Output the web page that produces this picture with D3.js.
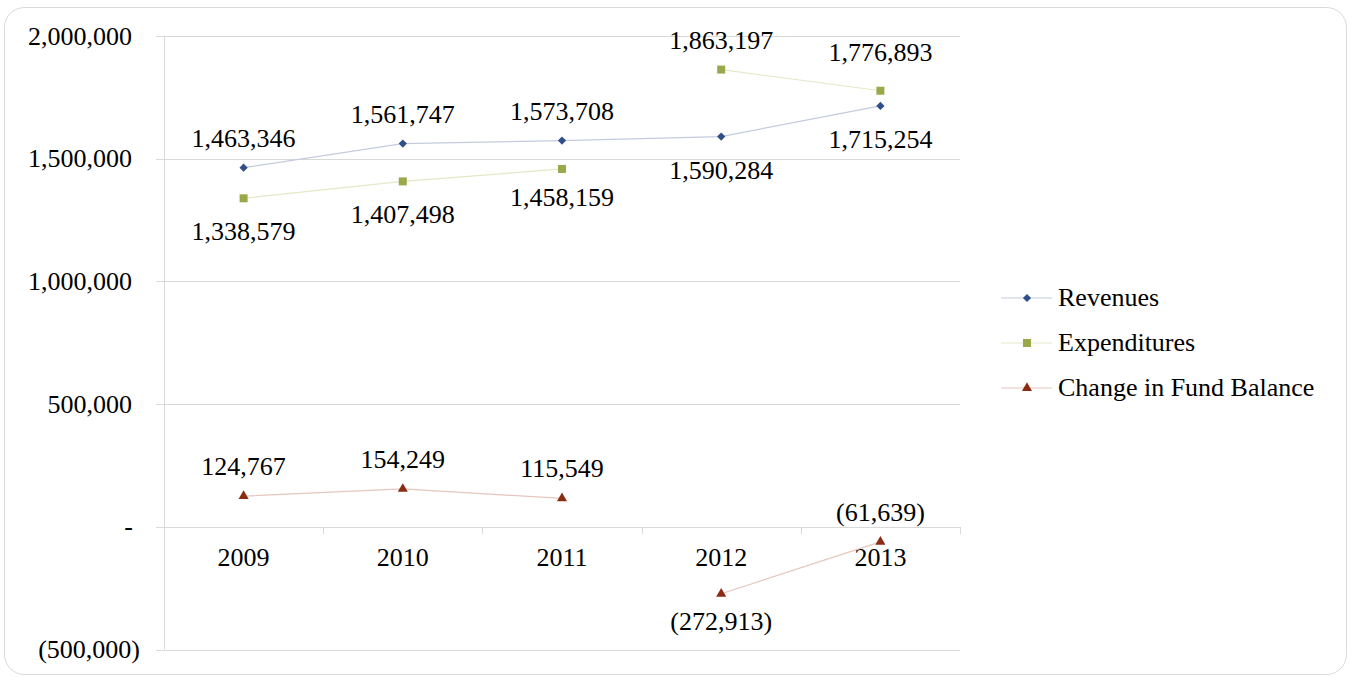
<!DOCTYPE html>
<html>
  <head>
    <meta http-equiv="Content-Type" content="text/html;charset=utf-8"/>
    <title>Revenues and Expenditures</title>
    <script src="https://d3js.org/d3.v7.min.js"></script>
    <style>
      body { margin: 0; background: #fff; }
    </style>
  </head>
  <body>
    <script type="text/javascript">

        // chart data
        const years = ['2009', '2010', '2011', '2012', '2013']
        const revenues = [1463346, 1561747, 1573708, 1590284, 1715254]
        const expenditures = [1338579, 1407498, 1458159, 1863197, 1776893]
        const fundChange = [124767, 154249, 115549, -272913, -61639]
        const yTicks = [-500000, 0, 500000, 1000000, 1500000, 2000000]
        const seriesNames = ['Revenues', 'Expenditures', 'Change in Fund Balance']

        // label placement (above / below the marker), and where lines break
        const labelSide = [
            ['up', 'up', 'up', 'down', 'down'],
            ['down', 'down', 'down', 'up', 'up'],
            ['up', 'up', 'up', 'down', 'up']
        ]
        const labelNudge = [
            [0, 0, 0, 0, 0],
            [0, 0, -5, 0, -9],
            [0, 0, 0, -6, 0]
        ]
        const segments = [
            [[0, 4]],
            [[0, 2], [3, 4]],
            [[0, 2], [3, 4]]
        ]

        const FONT = '"Liberation Serif", "Times New Roman", "DejaVu Serif", serif'

        const width = 1351,
            height = 677

        const svg = d3.select('body').append('svg')
            .attr('width', width)
            .attr('height', height)
            .attr('font-family', FONT)
            .style('font-family', FONT)

        // outer frame
        svg.append('rect')
            .attr('x', 4.5).attr('y', 7.5)
            .attr('width', 1342).attr('height', 667)
            .attr('rx', 20).attr('ry', 20)
            .attr('fill', '#fff')
            .attr('stroke', '#d9d9d9')

        const x = d3.scaleBand().domain(years).range([164, 960])
        const y = d3.scaleLinear().domain([-500000, 2000000]).range([649.5, 36])

        const fmt = d3.format(',')
        const label = v => v < 0 ? '(' + fmt(-v) + ')' : fmt(v)

        // gridlines + y ticks
        svg.append('g')
            .selectAll('line')
            .data(yTicks)
            .enter()
            .append('line')
            .attr('x1', 156).attr('x2', 960)
            .attr('y1', d => Math.round(y(d)) + 0.5)
            .attr('y2', d => Math.round(y(d)) + 0.5)
            .attr('stroke', '#d9d9d9')

        svg.append('line')
            .attr('x1', 164.5).attr('x2', 164.5)
            .attr('y1', y(2000000)).attr('y2', y(-500000))
            .attr('stroke', '#d9d9d9')

        // category ticks along the zero line
        const bounds = years.map(d => x(d)).concat([x.range()[1]])
        svg.append('g')
            .selectAll('line')
            .data(bounds)
            .enter()
            .append('line')
            .attr('x1', d => Math.round(d) + 0.5).attr('x2', d => Math.round(d) + 0.5)
            .attr('y1', Math.round(y(0))).attr('y2', Math.round(y(0)) + 7)
            .attr('stroke', '#d9d9d9')

        // y tick labels
        svg.append('g')
            .selectAll('text')
            .data(yTicks)
            .enter()
            .append('text')
            .attr('x', d => d < 0 ? 140 : (d === 0 ? 133 : 132))
            .attr('y', d => y(d))
            .attr('dy', '0.33em')
            .attr('text-anchor', 'end')
            .style('font-size', '26px')
            .text(d => d === 0 ? '-' : label(d))

        // x labels
        svg.append('g')
            .selectAll('text')
            .data(years)
            .enter()
            .append('text')
            .attr('x', d => x(d) + x.bandwidth() / 2)
            .attr('y', 566)
            .attr('text-anchor', 'middle')
            .style('font-size', '26px')
            .text(d => d)

        const allSeries = [revenues, expenditures, fundChange]
        const lineColors = ['#c3cbdd', '#e5e8c6', '#e6c6bf']
        const markColors = ['#2f4f8a', '#9aa84a', '#8b2b12']
        const shapes = [d3.symbolSquare, d3.symbolSquare, d3.symbolTriangle]
        const sizes = [34, 64, 44]
        const rot = s => s === 0 ? ' rotate(45)' : ''
        const cx = i => x(years[i]) + x.bandwidth() / 2

        const line = d3.line()
            .x(d => cx(d.i))
            .y(d => y(d.v))

        allSeries.forEach((vals, s) => {
            const g = svg.append('g')
            const pts = vals.map((v, i) => ({ v: v, i: i }))

            segments[s].forEach(seg => {
                g.append('path')
                    .datum(pts.slice(seg[0], seg[1] + 1))
                    .attr('d', line)
                    .attr('fill', 'none')
                    .attr('stroke', lineColors[s])
                    .attr('stroke-width', 1.2)
            })

            g.selectAll('path.mark')
                .data(pts)
                .enter()
                .append('path')
                .attr('class', 'mark')
                .attr('d', d3.symbol().type(shapes[s]).size(sizes[s]))
                .attr('transform', d => 'translate(' + cx(d.i) + ',' + y(d.v) + ')' + rot(s))
                .attr('fill', markColors[s])

            g.selectAll('text')
                .data(pts)
                .enter()
                .append('text')
                .attr('x', d => cx(d.i))
                .attr('y', d => y(d.v) + (labelSide[s][d.i] === 'up' ? -21 : 42) + labelNudge[s][d.i])
                .attr('text-anchor', 'middle')
                .style('font-size', '26px')
                .text(d => label(d.v))
        })

        // legend
        const legend = svg.append('g')
            .selectAll('g')
            .data(seriesNames)
            .enter()
            .append('g')
            .attr('transform', (d, i) => 'translate(1001,' + (298 + i * 45) + ')')

        legend.append('line')
            .attr('x1', 0).attr('x2', 51)
            .attr('stroke', (d, i) => lineColors[i])
            .attr('stroke-width', 1.2)

        legend.append('path')
            .attr('d', (d, i) => d3.symbol().type(shapes[i]).size(sizes[i])())
            .attr('transform', (d, i) => 'translate(26,0)' + rot(i))
            .attr('fill', (d, i) => markColors[i])

        legend.append('text')
            .attr('x', 57)
            .attr('dy', '0.3em')
            .style('font-size', '26px')
            .text(d => d)

    </script>
  </body>
</html>
